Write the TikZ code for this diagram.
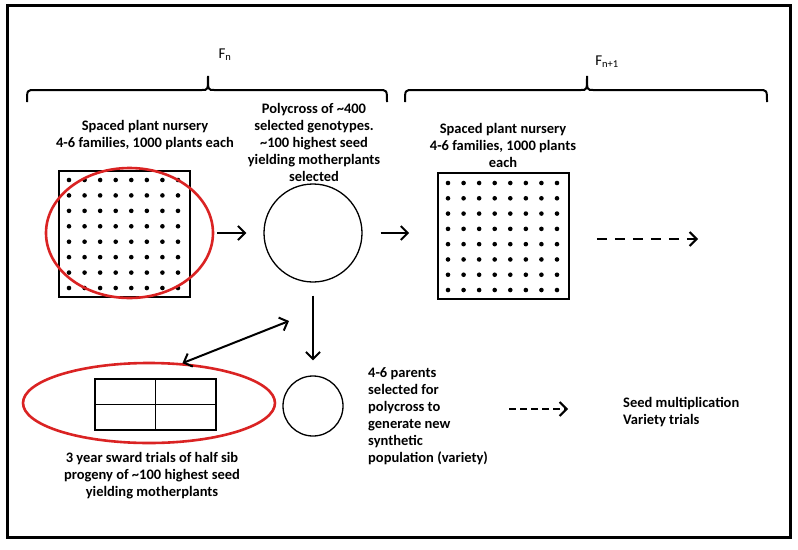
\documentclass[tikz,border=0pt]{standalone}
\usepackage{fontspec}
\setmainfont{Carlito}
\usepackage{tikz}
\usetikzlibrary{shapes.geometric, arrows.meta}
\definecolor{selred}{RGB}{218,35,35}

\begin{document}
\begin{tikzpicture}[x=1pt, y=-1pt, >={Straight Barb[length=7pt,width=14pt]},
    txt/.style={font=\bfseries\fontsize{14.5}{17}\selectfont, align=center, inner sep=0pt},
    gen/.style={font=\fontsize{15}{17}\selectfont, inner sep=0pt},
    plot/.style={draw, line width=1.6pt, minimum width=131pt, minimum height=126pt, inner sep=0pt},
    sel/.style={draw=selred, ellipse, line width=2.6pt, inner sep=0pt},
    flow/.style={line width=2pt, ->},
    bracket/.style={line width=2pt}]
    \useasboundingbox (0,0) rectangle (798,549);
    \draw[line width=3pt] (7,5) rectangle (790,537);
    \node[gen] (fn) at (225,55) {F\textsubscript{n}};
    \node[gen] (fn1) at (607,62) {F\textsubscript{n+1}};
    \draw[bracket] (27,102) .. controls (27,90) .. (35,90) -- (202,90) .. controls (208,90) .. (208,76) .. controls (208,90) .. (214,90) -- (379,90) .. controls (387,90) .. (387,102);
    \draw[bracket] (405,102) .. controls (405,90) .. (413,90) -- (581,90) .. controls (587,90) .. (587,76) .. controls (587,90) .. (593,90) -- (759,90) .. controls (767,90) .. (767,102);
    \node[txt] (nurs1) at (145,135) {Spaced plant nursery\\4-6 families, 1000 plants each};
    \node[txt] (poly) at (314,142) {Polycross of \textasciitilde400\\selected genotypes.\\\textasciitilde100 highest seed\\yielding motherplants\\selected};
    \node[txt] (nurs2) at (503,145) {Spaced plant nursery\\4-6 families, 1000 plants\\each};
    \node[plot] (grid1) at (124.5,234) {};
    \foreach \i in {0,...,7}
      \foreach \j in {0,...,7}
        \fill (69+15.57*\i, 180+15.43*\j) circle (2.3pt);
    \node[plot] (grid2) at (503.5,236) {};
    \foreach \i in {0,...,7}
      \foreach \j in {0,...,7}
        \fill (448+15.57*\i, 183+15.29*\j) circle (2.3pt);
    \node[sel, minimum width=167pt, minimum height=130pt] (sel1) at (129.5,233) {};
    \node[draw, circle, line width=1.3pt, minimum size=98pt] (cross) at (313,233) {};
    \node[draw, circle, line width=1.3pt, minimum size=60pt] (pick) at (313,406) {};
    \node[draw, line width=1.6pt, minimum width=121pt, minimum height=51pt] (sward) at (155.5,404.5) {};
    \draw[line width=1.6pt] (sward.north) -- (sward.south) (sward.west) -- (sward.east);
    \node[sel, minimum width=252pt, minimum height=80pt] (sel2) at (149,403) {};
    \node[txt] (trial) at (152,476) {3 year sward trials of half sib\\progeny of \textasciitilde100 highest seed\\yielding motherplants};
    \node[txt, align=left, anchor=west] (parents) at (368,416) {4-6 parents\\selected for\\polycross to\\generate new\\synthetic\\population (variety)};
    \node[txt, align=left, anchor=west] (seed) at (623,412) {Seed multiplication\\Variety trials};
    \coordinate (next) at (698,239);
    \coordinate (back) at (289,321);
    \coordinate (ready) at (568,409);
    \draw[flow, shorten <=3pt, shorten >=17pt] (sel1.east) -- (cross.west);
    \draw[flow, shorten <=18pt, shorten >=28pt] (cross.east) -- (grid2.west |- cross.east);
    \draw[flow, dash pattern=on 10pt off 8pt, shorten <=27pt] (grid2.east |- next) -- (next);
    \draw[flow, shorten <=13pt, shorten >=15pt] (cross.south) -- (pick.north);
    \draw[line width=2pt, <->] (back) -- (sel2.50);
    \draw[flow, dash pattern=on 7pt off 4pt, shorten <=21pt] (parents.east |- ready) -- (ready);
  \end{tikzpicture}
\end{document}
